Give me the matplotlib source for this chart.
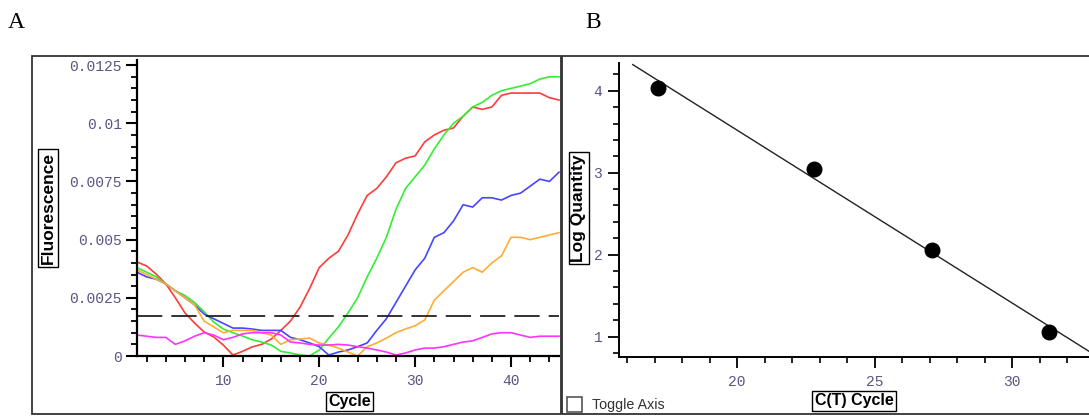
import numpy as np
import matplotlib.pyplot as plt
from matplotlib.patches import Rectangle
from matplotlib.ticker import MultipleLocator, FuncFormatter

# amplification curves, one value per cycle
cycles = np.arange(1, 46)
red = [0.00404, 0.00387, 0.00352, 0.0031, 0.0025, 0.00185, 0.00142, 0.00103, 0.00082, 0.00047,
       0.00004, 0.0002, 0.00039, 0.0005, 0.00073, 0.0011, 0.0015, 0.0021, 0.0029, 0.0038,
       0.0042, 0.0045, 0.0052, 0.0061, 0.0069, 0.0072, 0.0077, 0.0083, 0.0085, 0.0086,
       0.0092, 0.0095, 0.0097, 0.0098, 0.0103, 0.0107, 0.0106, 0.0107, 0.0112, 0.0113,
       0.0113, 0.0113, 0.0113, 0.0111, 0.0110]
green = [0.0038, 0.0036, 0.0034, 0.0031, 0.0028, 0.0026, 0.0023, 0.0019, 0.00146, 0.00116,
         0.001, 0.00086, 0.0007, 0.0006, 0.00047, 0.0002, 0.00013, 0.00004, 0.0, 0.00026,
         0.00077, 0.00125, 0.00185, 0.0025, 0.0034, 0.0042, 0.0051, 0.0063, 0.0072, 0.0077,
         0.0082, 0.0089, 0.0095, 0.0100, 0.0103, 0.0107, 0.0109, 0.0112, 0.0114, 0.0115,
         0.0116, 0.0117, 0.0119, 0.0120, 0.0120]
blue = [0.0036, 0.0034, 0.0033, 0.0031, 0.0028, 0.0025, 0.0022, 0.0018, 0.0016, 0.0014,
        0.0012, 0.0012, 0.00116, 0.0011, 0.0011, 0.0011, 0.0008, 0.0007, 0.00056, 0.0004,
        0.00004, 0.00017, 0.00026, 0.0004, 0.00056, 0.0011, 0.0016, 0.0023, 0.0030, 0.0037,
        0.0042, 0.0051, 0.0053, 0.0058, 0.0065, 0.0064, 0.0068, 0.0068, 0.0067, 0.0069,
        0.0070, 0.0073, 0.0076, 0.0075, 0.0079]
orange = [0.0037, 0.0035, 0.0033, 0.0031, 0.0028, 0.0025, 0.0022, 0.0015, 0.00125, 0.001,
          0.0011, 0.0011, 0.0011, 0.001, 0.0009, 0.0005, 0.0007, 0.00073, 0.00077, 0.00056,
          0.00047, 0.00034, 0.00017, 0.0, 0.0004, 0.00056, 0.00077, 0.001, 0.00116, 0.0013,
          0.00155, 0.0024, 0.0028, 0.0032, 0.0036, 0.0038, 0.0036, 0.004, 0.0043, 0.0051,
          0.0051, 0.005, 0.0051, 0.0052, 0.0053]
magenta = [0.0009, 0.00085, 0.0008, 0.0008, 0.0005, 0.00065, 0.00085, 0.001, 0.0009, 0.0007,
           0.0008, 0.00095, 0.001, 0.001, 0.001, 0.0009, 0.0006, 0.00056, 0.0005, 0.00047,
           0.00047, 0.0005, 0.00047, 0.0004, 0.00034, 0.00026, 0.00017, 0.00004, 0.00013, 0.00026,
           0.00034, 0.00034, 0.0004, 0.0005, 0.0006, 0.00065, 0.0008, 0.00095, 0.001, 0.001,
           0.0009, 0.0008, 0.00085, 0.00085, 0.00085]
threshold = 0.00172

# standard curve points
ct = [17.13, 22.8, 27.1, 31.35]
log_qty = [4.04, 3.05, 2.06, 1.05]

W, H = 1089, 416
fig = plt.figure(figsize=(W / 100, H / 100), dpi=100)

def fx(x):
    return x / W

def fy(y):
    return 1 - y / H

tick_family = ['Liberation Mono', 'DejaVu Sans Mono']
tick_size = 10.5
tick_color = '#5a5484'
label_font = ['Liberation Sans', 'DejaVu Sans']
box = dict(boxstyle='square,pad=0.15', facecolor='white', edgecolor='black', lw=1)

# outer frames
fig.add_artist(Rectangle((fx(32), fy(414)), fx(561 - 32), (414 - 56) / H, transform=fig.transFigure,
                         fill=False, edgecolor='#333333', lw=1.3))
fig.add_artist(Rectangle((fx(562), fy(414)), fx(540), (414 - 56) / H, transform=fig.transFigure,
                         fill=False, edgecolor='#333333', lw=1.3, clip_on=False))

# ---- Panel A
axA = fig.add_axes([fx(137), fy(356), fx(559 - 137), (356 - 60) / H])
for ys, col in [(red, '#ff3b3b'), (green, '#33ee33'), (blue, '#4646ff'),
                (orange, '#ffac33'), (magenta, '#ff33ff')]:
    axA.plot(cycles, ys, color=col, lw=1.2, clip_on=False)
axA.axhline(threshold, color='#222222', lw=1.3, dashes=(14, 5))
axA.set_xlim(1, 45)
axA.set_ylim(0, 0.01272)
axA.xaxis.set_major_locator(MultipleLocator(10))
axA.xaxis.set_minor_locator(MultipleLocator(2))
axA.yaxis.set_major_locator(MultipleLocator(0.0025))
axA.yaxis.set_minor_locator(MultipleLocator(0.0005))
axA.yaxis.set_major_formatter(FuncFormatter(lambda v, p: '%g' % round(v, 5)))
for s in ['top', 'right']:
    axA.spines[s].set_visible(False)
for s in ['left', 'bottom']:
    axA.spines[s].set_linewidth(1.6)
axA.tick_params(which='major', length=8, width=1.5, colors='black', labelcolor=tick_color)
axA.tick_params(which='minor', length=4.5, width=1.3, colors='black')
axA.tick_params(axis='x', which='major', pad=5)
axA.tick_params(axis='y', which='major', pad=3)
for lab in axA.get_xticklabels() + axA.get_yticklabels():
    lab.set_fontfamily(tick_family)
    lab.set_fontsize(tick_size)

fig.text(fx(48), fy(208), 'Fluorescence', rotation=90, ha='center', va='center',
         family=label_font, weight='bold', fontsize=12.5, bbox=box)
fig.text(fx(349.5), fy(401.5), 'Cycle', ha='center', va='center',
         family=label_font, weight='bold', fontsize=11.5, bbox=box)

# ---- Panel B
axB = fig.add_axes([fx(619), fy(357), fx(1089 - 619), (357 - 63) / H])
axB.scatter(ct, log_qty, s=110, color='black', zorder=3)
slope, intercept = np.polyfit(ct, log_qty, 1)
xl = np.array([16.2, 33])
axB.plot(xl, slope * xl + intercept, color='#222222', lw=1)
axB.set_xlim(15.7, 32.8)
axB.set_ylim(0.75, 4.34)
axB.xaxis.set_major_locator(MultipleLocator(5))
axB.xaxis.set_minor_locator(MultipleLocator(1))
axB.yaxis.set_major_locator(MultipleLocator(1))
axB.yaxis.set_minor_locator(MultipleLocator(0.2))
for s in ['top', 'right']:
    axB.spines[s].set_visible(False)
for s in ['left', 'bottom']:
    axB.spines[s].set_linewidth(1.4)
axB.tick_params(which='major', length=8, width=1.3, colors='black', labelcolor=tick_color)
axB.tick_params(which='minor', length=4.5, width=1.2, colors='black')
axB.tick_params(axis='x', which='major', pad=5)
axB.tick_params(axis='y', which='major', pad=4)
for lab in axB.get_xticklabels() + axB.get_yticklabels():
    lab.set_fontfamily(tick_family)
    lab.set_fontsize(tick_size)

fig.text(fx(579), fy(208), 'Log Quantity', rotation=90, ha='center', va='center',
         family=label_font, weight='bold', fontsize=12.5, bbox=box)
fig.text(fx(854), fy(401), 'C(T) Cycle', ha='center', va='center',
         family=label_font, weight='bold', fontsize=11.5, bbox=box)

# checkbox
fig.add_artist(Rectangle((fx(567), fy(412)), fx(15), 15 / H, transform=fig.transFigure,
                         fill=False, edgecolor='#555555', lw=1.2))
fig.text(fx(592), fy(405), 'Toggle Axis', ha='left', va='center',
         family=label_font, fontsize=10.3, color='#333333')

# panel letters
fig.text(fx(8), fy(22), 'A', ha='left', va='center', family=['Liberation Serif', 'DejaVu Serif'], fontsize=17)
fig.text(fx(585), fy(22), 'B', ha='left', va='center', family=['Liberation Serif', 'DejaVu Serif'], fontsize=17)

fig.savefig('out.png', dpi=100)
